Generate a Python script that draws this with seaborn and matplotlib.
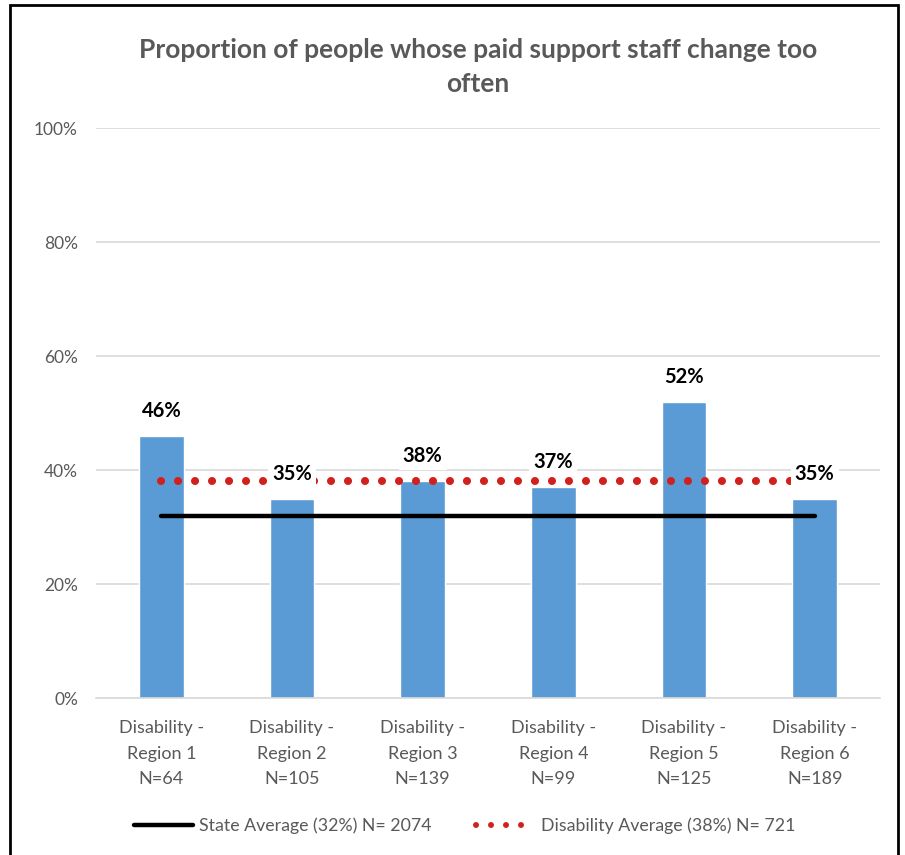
import matplotlib
matplotlib.use("Agg")
import matplotlib.pyplot as plt
from matplotlib.lines import Line2D
from matplotlib.patches import Rectangle
import seaborn as sns
import pandas as pd

# Chart data
regions = ["Disability -\nRegion 1\nN=64", "Disability -\nRegion 2\nN=105",
           "Disability -\nRegion 3\nN=139", "Disability -\nRegion 4\nN=99",
           "Disability -\nRegion 5\nN=125", "Disability -\nRegion 6\nN=189"]
proportions = [0.46, 0.35, 0.38, 0.37, 0.52, 0.35]
state_average = 0.32
disability_average = 0.38
state_label = "State Average (32%) N= 2074"
disability_label = "Disability Average (38%) N= 721"
title = "Proportion of people whose paid support staff change too\noften"
y_ticks = [0, 0.2, 0.4, 0.6, 0.8, 1.0]
y_tick_labels = ["0%", "20%", "40%", "60%", "80%", "100%"]

sns.set_theme(style="white")
plt.rcParams["font.family"] = ["Lato", "DejaVu Sans"]

GRAY = "#595959"
BAR = "#5b9bd5"
RED = "#d0211f"

df = pd.DataFrame({"region": regions, "value": proportions})

fig = plt.figure(figsize=(9.05, 8.55), dpi=100)
ax = fig.add_axes([96 / 905, 1 - 698 / 855, 784 / 905, 570 / 855])

sns.barplot(data=df, x="region", y="value", color=BAR, width=0.34,
            saturation=1, ax=ax, zorder=2)

xs = list(range(len(regions)))
ax.plot(xs, [state_average] * len(xs), color="black", lw=3.2,
        solid_capstyle="round", zorder=3)
ax.plot(xs, [disability_average] * len(xs), color=RED, lw=5.8,
        linestyle=(0, (0.01, 2.1)), dash_capstyle="round", zorder=3)

for x, v in zip(xs, proportions):
    ax.annotate(f"{v:.0%}", (x, v), xytext=(0, 18), textcoords="offset points",
                ha="center", va="center", fontsize=14.5, fontweight="bold",
                color="black", zorder=5,
                bbox=dict(boxstyle="square,pad=0.2", fc="white", ec="none"))

ax.set_ylim(0, 1.0)
ax.set_xlim(-0.5, len(regions) - 0.5)
ax.set_yticks(y_ticks)
ax.set_yticklabels(y_tick_labels)
ax.yaxis.grid(True, color="#d9d9d9", lw=1.2, zorder=0)
ax.set_axisbelow(True)
for s in ["top", "right", "left"]:
    ax.spines[s].set_visible(False)
ax.spines["bottom"].set_color("#d9d9d9")
ax.spines["bottom"].set_linewidth(1.2)
ax.tick_params(axis="y", length=0, pad=13, labelsize=12.5, labelcolor=GRAY)
ax.tick_params(axis="x", length=0, pad=16, labelsize=13, labelcolor=GRAY)
for lab in ax.get_xticklabels():
    lab.set_linespacing(1.72)
ax.set_xlabel("")
ax.set_ylabel("")

fig.text(478 / 905, 1 - 67 / 855, title, ha="center", va="center",
         fontsize=19, fontweight="bold", color=GRAY, linespacing=1.5)

handles = [
    Line2D([0], [0], color="black", lw=3.2, solid_capstyle="round"),
    Line2D([0], [0], color=RED, lw=4.3, linestyle=(0, (0.01, 2.5)),
           dash_capstyle="round"),
]
fig.legend(handles, [state_label, disability_label], loc="center",
           bbox_to_anchor=(465 / 905, 1 - 826 / 855), ncol=2, frameon=False,
           fontsize=12.8, labelcolor=GRAY, handlelength=3.3, handletextpad=0.35,
           columnspacing=2.5)

fig.add_artist(Rectangle((10 / 905, -0.05), 888 / 905, 1.05 - 5 / 855,
                         transform=fig.transFigure, fill=False,
                         ec="black", lw=2))

fig.savefig("out.png", dpi=100)
